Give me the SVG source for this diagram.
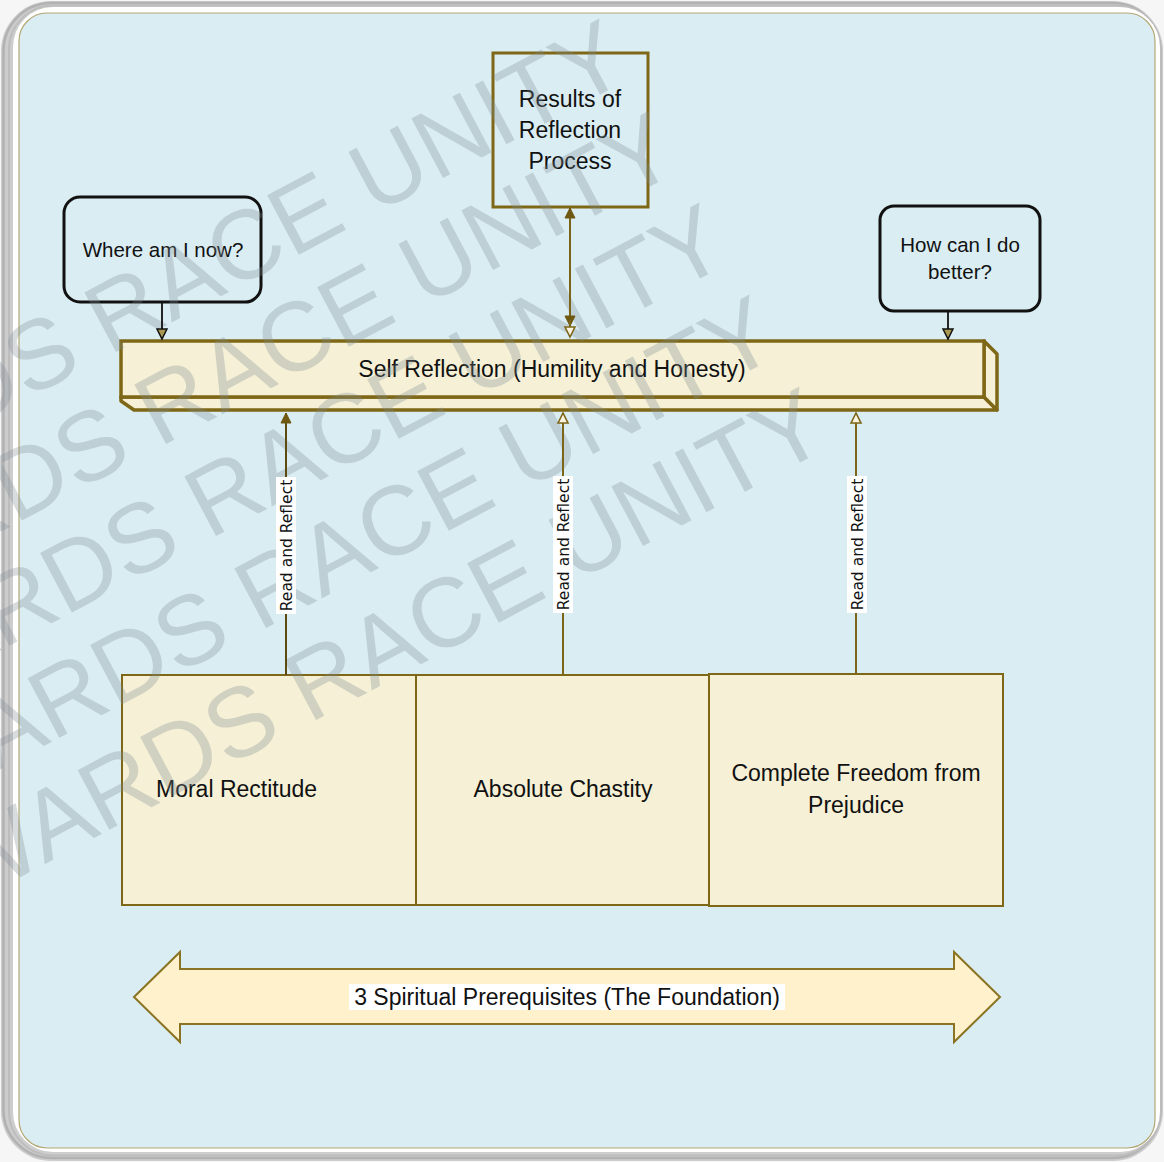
<svg xmlns="http://www.w3.org/2000/svg" width="1164" height="1162" viewBox="0 0 1164 1162">
<style>
.t{font-family:"Liberation Sans",Arial,sans-serif;fill:#111;text-anchor:middle}
.t23{font-size:23px}
.t20{font-size:20.5px}
.lbl{font-family:"DejaVu Sans",Verdana,sans-serif;font-size:15.5px;fill:#111;text-anchor:middle}
.beige{fill:#f5f0d6;stroke:#7e6717}
.qbox{fill:none;stroke:#111;stroke-width:3}
.olv{stroke:#7c6518;stroke-width:2;fill:none}
.blk{stroke:#111;stroke-width:1.8;fill:none}
.wm{font-family:"Liberation Sans",Arial,sans-serif;font-size:98px;fill:#7f8c92;fill-opacity:0.3;text-anchor:end}
.lbg{fill:#ffffff}
</style>
<defs>
<marker id="aBlk" markerUnits="userSpaceOnUse" viewBox="-2 -2 14 14" markerWidth="14" markerHeight="14" refX="10" refY="5" orient="auto">
<path d="M0,0 L10,5 L0,10 z" fill="#a89850" stroke="#111" stroke-width="1.5"/>
</marker>
<marker id="aFil" markerUnits="userSpaceOnUse" viewBox="-2 -2 14 14" markerWidth="14" markerHeight="14" refX="10" refY="5" orient="auto-start-reverse">
<path d="M0,0 L10,5 L0,10 z" fill="#6e5812" stroke="#6e5812" stroke-width="1"/>
</marker>
<marker id="aOpn" markerUnits="userSpaceOnUse" viewBox="-2 -2 14 14" markerWidth="14" markerHeight="14" refX="10" refY="5" orient="auto">
<path d="M0,0 L10,5 L0,10 z" fill="#f8f4e0" stroke="#7c6518" stroke-width="1.6"/>
</marker>
</defs>

<g id="frame">
<rect x="0" y="0" width="1164" height="1162" fill="#f6f6f6"/>
<rect x="1" y="1" width="1162" height="1160" rx="50" fill="#cdcdcd"/>
<rect x="3.5" y="3" width="1157" height="1155" rx="48" fill="none" stroke="#b2b2b2" stroke-width="2.5"/>
<rect x="9" y="5.5" width="1151" height="1150" rx="44" fill="none" stroke="#bdbdbd" stroke-width="2"/>
<rect x="13" y="7" width="1147" height="1145" rx="40" fill="#ffffff"/>
<rect x="19" y="13" width="1136" height="1135" rx="28" fill="#daedf3" stroke="#b3a773" stroke-width="1.2"/>
</g>

<g id="node-where">
<rect class="qbox" x="64" y="197" width="197" height="105" rx="16"/>
<text class="t t20" x="163" y="257">Where am I now?</text>
</g>

<g id="node-how">
<rect class="qbox" x="880" y="206" width="160" height="105" rx="14"/>
<text class="t t20" x="960" y="252">How can I do</text>
<text class="t t20" x="960" y="279">better?</text>
</g>

<g id="node-results">
<rect x="493" y="53" width="155" height="154" fill="none" stroke="#7e6717" stroke-width="3"/>
<text class="t t23" x="570" y="107">Results of</text>
<text class="t t23" x="570" y="138">Reflection</text>
<text class="t t23" x="570" y="169">Process</text>
</g>

<g id="node-self">
<polygon class="beige" stroke-width="3.5" stroke-linejoin="round" points="121,397 984,397 997,410 134,410 121,401"/>
<polygon class="beige" stroke-width="3.5" stroke-linejoin="round" points="984,341 997,354 997,410 984,397"/>
<rect class="beige" stroke-width="3.5" x="121" y="341" width="863" height="56"/>
<text class="t t23" x="552" y="377">Self Reflection (Humility and Honesty)</text>
</g>

<g id="node-moral">
<rect class="beige" stroke-width="2" x="122" y="675" width="294" height="230"/>
<text class="t t23" x="156" y="797" style="text-anchor:start">Moral Rectitude</text>
</g>

<g id="node-chastity">
<rect class="beige" stroke-width="2" x="416" y="675" width="293" height="230"/>
<text class="t t23" x="563" y="797">Absolute Chastity</text>
</g>

<g id="node-freedom">
<rect class="beige" stroke-width="2" x="709" y="674" width="294" height="232"/>
<text class="t t23" x="856" y="781">Complete Freedom from</text>
<text class="t t23" x="856" y="813">Prejudice</text>
</g>

<g id="node-foundation">
<polygon points="134,997 180,952 180,969 954,969 954,952 1000,997 954,1042 954,1024 180,1024 180,1042" fill="#fff1cc" stroke="#8a7322" stroke-width="2"/>
<rect class="lbg" x="349" y="984" width="436" height="26"/>
<text class="t t23" x="567" y="1005">3 Spiritual Prerequisites (The Foundation)</text>
</g>

<g id="watermark">
<text class="wm" transform="translate(633,77) rotate(-28)">DS RACE UNITY</text>
<text class="wm" transform="translate(683,169) rotate(-28)">RDS RACE UNITY</text>
<text class="wm" transform="translate(733,261) rotate(-28)">ARDS RACE UNITY</text>
<text class="wm" transform="translate(783,353) rotate(-28)">WARDS RACE UNITY</text>
<text class="wm" transform="translate(833,445) rotate(-28)">WARDS RACE UNITY</text>
</g>

<g id="connectors">
<path class="blk" d="M162,303 L162,339" marker-end="url(#aBlk)"/>
<path class="blk" d="M948,311 L948,339" marker-end="url(#aBlk)"/>
<path class="olv" d="M570,208 L570,326" marker-start="url(#aFil)" marker-end="url(#aFil)"/>
<path class="olv" d="M570,320 L570,337" marker-end="url(#aOpn)"/>
<path d="M286,675 L286,413" stroke="#5e4a10" stroke-width="2" fill="none" marker-end="url(#aFil)"/>
<path class="olv" d="M563,675 L563,413" marker-end="url(#aOpn)"/>
<path class="olv" d="M856,674 L856,413" marker-end="url(#aOpn)"/>
<rect class="lbg" x="276" y="477" width="20" height="137"/>
<text class="lbl" transform="translate(292,545.5) rotate(-90)">Read and Reflect</text>
<rect class="lbg" x="553" y="476" width="20" height="137"/>
<text class="lbl" transform="translate(569,544.5) rotate(-90)">Read and Reflect</text>
<rect class="lbg" x="847" y="476" width="20" height="137"/>
<text class="lbl" transform="translate(863,544.5) rotate(-90)">Read and Reflect</text>
</g>
</svg>
